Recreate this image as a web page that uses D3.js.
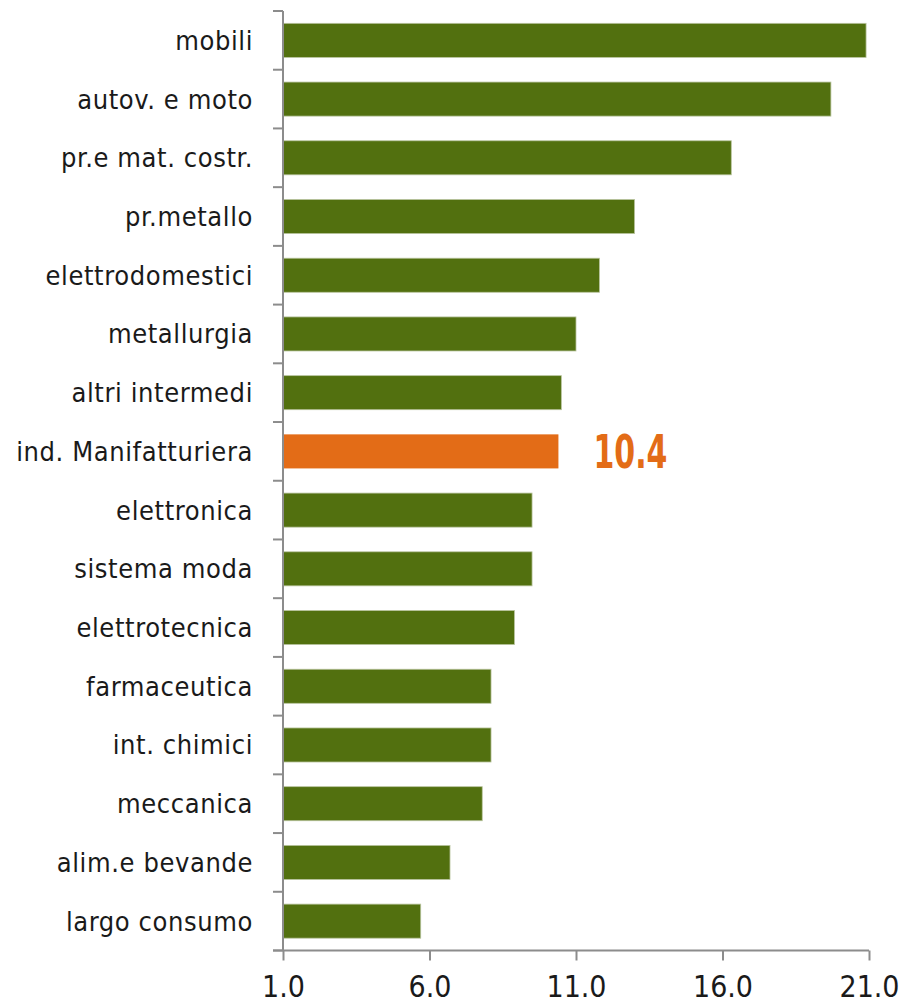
<!DOCTYPE html>
<html>
<head>
<meta charset="utf-8">
<script src="https://cdn.jsdelivr.net/npm/d3@7"></script>
<style>
  html, body { margin: 0; padding: 0; background: #fff; }
  svg { display: block; }
  .cat { font-family: "DejaVu Sans Condensed", "DejaVu Sans", sans-serif; font-size: 27px; fill: #1a1a1a; letter-spacing: 0.6px; }
  .tick-lab { font-family: "DejaVu Sans Condensed", "DejaVu Sans", sans-serif; font-size: 30px; fill: #1a1a1a; }
  .val { font-family: "DejaVu Sans Condensed", "DejaVu Sans", sans-serif; font-size: 46px; font-weight: bold; fill: #e36c17; }
</style>
</head>
<body>
<svg id="chart" width="901" height="1006"></svg>
<script>
// Sectors, top to bottom
const categories = [
  "mobili", "autov. e moto", "pr.e mat. costr.", "pr.metallo", "elettrodomestici",
  "metallurgia", "altri intermedi", "ind. Manifatturiera", "elettronica", "sistema moda",
  "elettrotecnica", "farmaceutica", "int. chimici", "meccanica", "alim.e bevande", "largo consumo"
];
const values = [20.9, 19.7, 16.3, 13.0, 11.8, 11.0, 10.5, 10.4, 9.5, 9.5, 8.9, 8.1, 8.1, 7.8, 6.7, 5.7];
const highlight = "ind. Manifatturiera";
const tickValues = [1, 6, 11, 16, 21];

const svg = d3.select("#chart");
const plotLeft = 283, plotRight = 869, plotTop = 11, plotBottom = 950.5;

const x = d3.scaleLinear().domain([1, 21]).range([plotLeft, plotRight]);
const y = d3.scaleBand().domain(categories).range([plotTop, plotBottom])
  .paddingInner(0.42).paddingOuter(0.21);

const green = "#52700f", orange = "#e36c17", axisColor = "#8c8c8c";

// bars
svg.append("g").selectAll("rect").data(categories).join("rect")
  .attr("x", x(1))
  .attr("y", d => y(d))
  .attr("width", (d, i) => x(values[i]) - x(1))
  .attr("height", y.bandwidth())
  .attr("fill", d => d === highlight ? orange : green)
  .attr("stroke", d => d === highlight ? "none" : "#b9c49f")
  .attr("stroke-width", 0.8);

// value label on the highlighted bar
const hi = categories.indexOf(highlight);
svg.append("text").attr("class", "val")
  .attr("x", x(values[hi]) + 35)
  .attr("y", y(highlight) + y.bandwidth() / 2)
  .attr("dy", "0.36em")
  .attr("textLength", 74)
  .attr("lengthAdjust", "spacingAndGlyphs")
  .text(values[hi].toFixed(1));

// category axis: line plus ticks on band boundaries
const gy = svg.append("g");
gy.append("line").attr("x1", plotLeft).attr("x2", plotLeft).attr("y1", plotTop).attr("y2", plotBottom)
  .attr("stroke", axisColor).attr("stroke-width", 2);
const step = y.step();
const bounds = d3.range(categories.length + 1).map(i => plotTop + i * step);
gy.selectAll("line.tk").data(bounds).join("line").attr("class", "tk")
  .attr("x1", plotLeft - 10).attr("x2", plotLeft).attr("y1", d => d).attr("y2", d => d)
  .attr("stroke", axisColor).attr("stroke-width", 2);
gy.selectAll("text").data(categories).join("text").attr("class", "cat")
  .attr("x", plotLeft - 30)
  .attr("y", d => y(d) + y.bandwidth() / 2)
  .attr("dy", "0.35em")
  .attr("text-anchor", "end")
  .text(d => d);

// value axis
const xAxis = d3.axisBottom(x).tickValues(tickValues).tickFormat(d3.format(".1f"))
  .tickSize(10).tickSizeOuter(0).tickPadding(8);
const gx = svg.append("g").attr("transform", `translate(0,${plotBottom})`).call(xAxis);
gx.select(".domain").attr("stroke", axisColor).attr("stroke-width", 2)
  .attr("d", `M${plotLeft - 10},0H${plotRight}`);
gx.selectAll(".tick line").attr("stroke", axisColor).attr("stroke-width", 2);
gx.selectAll(".tick text").attr("class", "tick-lab").attr("fill", null).attr("font-size", null).attr("font-family", null)
  .attr("dy", "0.95em");
</script>
</body>
</html>
